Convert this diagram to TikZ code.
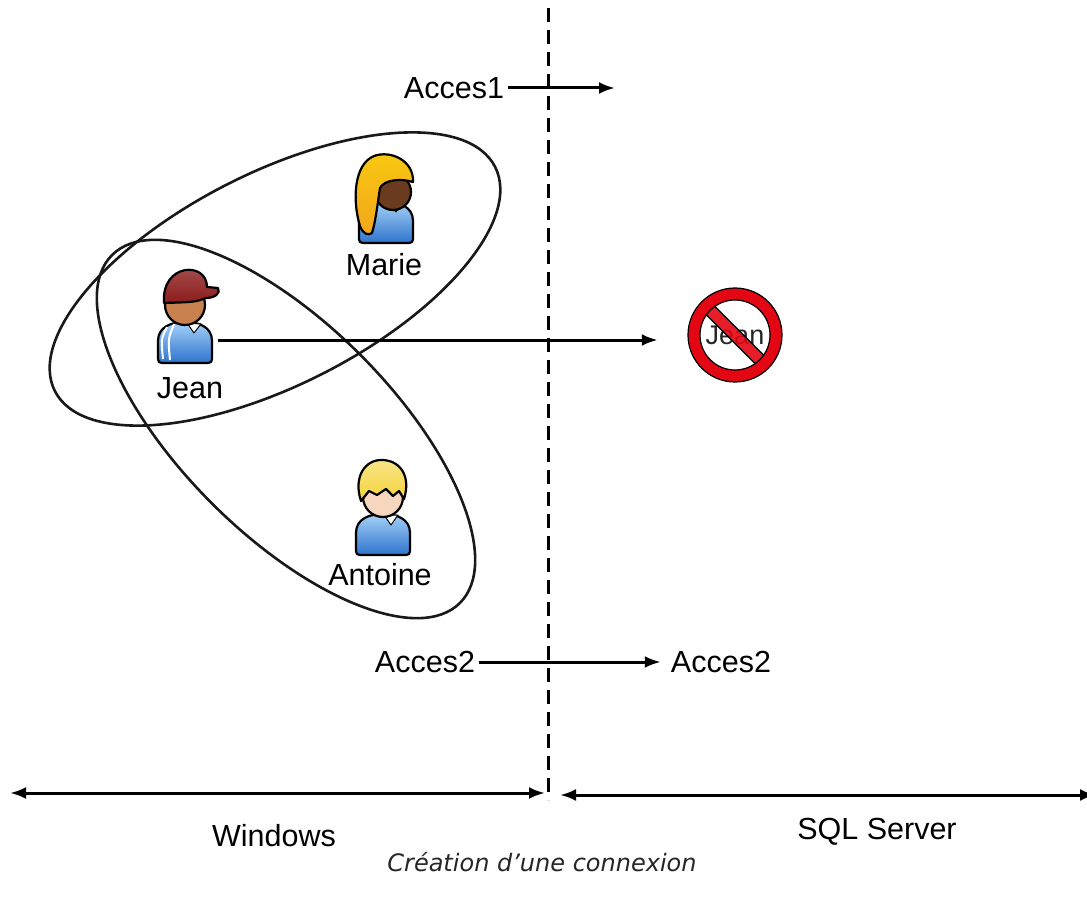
\documentclass[tikz,border=0pt]{standalone}
\usepackage{fontspec}
\setmainfont{Liberation Sans}
\newfontfamily\notefont{DejaVu Sans}
\usetikzlibrary{arrows.meta,positioning}

\definecolor{shirtlight}{HTML}{A4D2F8}
\definecolor{shirtdark}{HTML}{2F73CC}
\definecolor{capred}{HTML}{8C1C1C}
\definecolor{jeanskin}{HTML}{C9804F}
\definecolor{marieskin}{HTML}{6A3B1F}
\definecolor{mariehair}{HTML}{F3A51C}
\definecolor{antoineskin}{HTML}{F7D6BE}
\definecolor{antoinehair}{HTML}{F4D43A}
\definecolor{banred}{HTML}{E30613}

\tikzset{
  lbl/.style={font=\fontsize{30.5}{36}\selectfont, inner sep=0pt},
  link/.style={-{Latex[length=16pt,width=12pt]}, line width=3pt},
  span/.style={{Latex[length=16pt,width=12pt]}-{Latex[length=16pt,width=12pt]}, line width=3pt},
  group/.style={draw=black!90, line width=2.6pt},
  outline/.style={draw=black, line width=2.2pt, line join=round},
  shirt/.style={outline, top color=shirtlight, bottom color=shirtdark},
  collar/.style={fill=white, draw=black, line width=1pt, line join=round},
}

\begin{document}
\begin{tikzpicture}[x=1pt, y=-1pt]
\useasboundingbox (0,0) rectangle (1087,901);

% border between the two worlds
\coordinate (sepTop) at (548,8);
\coordinate (sepBot) at (548,800);
\draw[dash pattern=on 14pt off 8pt, line width=3pt] (sepTop) -- (sepBot);

% groups
\draw[group, rotate around={27:(275,279)}] (275,279) ellipse [x radius=247, y radius=106];
\draw[group, rotate around={-45:(286,429)}] (286,429) ellipse [x radius=246, y radius=105];

% Marie
\begin{scope}[shift={(390,190)}]
  \draw[shirt, shift={(-4,-5)}] (-27,50) .. controls (-27,58) .. (-19,58) -- (19,58) .. controls (27,58) .. (27,50) -- (27,36) .. controls (27,22) and (14,17) .. (0,17) .. controls (-14,17) and (-27,22) .. (-27,36) -- cycle;
  \draw[collar] (-2,13) -- (12,13) -- (6,22) -- cycle;
  \draw[outline, fill=marieskin] (3,2) circle (18);
  \draw[outline, top color=mariehair!60!yellow, bottom color=mariehair] (23,-8) .. controls (24,-30) and (0,-40) .. (-16,-34) .. controls (-36,-26) and (-38,10) .. (-30,36) .. controls (-27,44) and (-22,46) .. (-18,43) .. controls (-14,30) and (-12,10) .. (-10,-2) .. controls (-6,-10) and (10,-12) .. (23,-8) -- cycle;
\end{scope}
\node[lbl] (marie) at (384,265) {Marie};

% Jean
\begin{scope}[shift={(185,305)}]
  \draw[shirt] (-27,50) .. controls (-27,58) .. (-19,58) -- (19,58) .. controls (27,58) .. (27,50) -- (27,36) .. controls (27,22) and (14,17) .. (0,17) .. controls (-14,17) and (-27,22) .. (-27,36) -- cycle;
  \draw[white, line width=2pt] (-18,22) .. controls (-24,34) .. (-22,54);
  \draw[white, line width=2pt] (-11,19) .. controls (-17,34) .. (-15,55);
  \draw[collar] (2,18) -- (16,19) -- (9,28) -- cycle;
  \draw[outline, fill=jeanskin] (0,0) circle (20);
  \draw[outline, top color=capred!75!white, bottom color=capred] (-21,-2) .. controls (-24,-42) and (22,-44) .. (22,-18) -- (33,-17) .. controls (36,-12) and (30,-7) .. (21,-7) .. controls (10,-3) .. (-21,-2) -- cycle;
\end{scope}
\node[inner sep=0, minimum width=56pt, minimum height=40pt] (jean) at (190,340) {};
\node[lbl] (jeanlbl) at (190,388) {Jean};

% Antoine
\begin{scope}[shift={(383,497)}]
  \draw[shirt] (-27,50) .. controls (-27,58) .. (-19,58) -- (19,58) .. controls (27,58) .. (27,50) -- (27,36) .. controls (27,22) and (14,17) .. (0,17) .. controls (-14,17) and (-27,22) .. (-27,36) -- cycle;
  \draw[collar] (1,18) -- (15,18) -- (8,28) -- cycle;
  \draw[outline, fill=antoineskin] (0,0) circle (20);
  \draw[outline, top color=antoinehair!60!white, bottom color=antoinehair] (-22,4) .. controls (-30,-20) and (-18,-38) .. (0,-37) .. controls (18,-36) and (28,-20) .. (21,2) -- (16,-6) -- (10,-1) -- (3,-8) -- (-6,-2) -- (-14,-6) -- cycle;
\end{scope}
\node[lbl] (antoine) at (380,575) {Antoine};

% refused login
\node[circle, inner sep=0, minimum size=94pt] (ban) at (735,335) {};
\node[font=\fontsize{27}{30}\selectfont, text=black!85, inner sep=0] at (ban) {Jean};
\fill[banred, opacity=.9, rotate around={-45:(735,335)}] (698,329) rectangle (772,341);
\draw[line width=1.2pt, rotate around={-45:(735,335)}] (698,329) -- (772,329) (698,341) -- (772,341);
\fill[banred, even odd rule] (ban) circle (47) circle (35);
\draw[line width=1.2pt] (ban) circle (47) (ban) circle (35);

\draw[link] (jean.east) -- (jean.east -| ban.west) [shorten >=30pt];

% logins
\node[lbl] (acc1) at (454,88) {Acces1};
\coordinate (acc1end) at (615,88);
\draw[link, shorten <=4pt] (acc1) -- (acc1end);

\node[lbl] (acc2win) at (425,662) {Acces2};
\node[lbl] (acc2sql) at (721,662) {Acces2};
\draw[link, shorten <=4pt, shorten >=10pt] (acc2win) -- (acc2sql);

% domains
\coordinate (winL) at (10,793);
\coordinate (winR) at (545,793);
\coordinate (sqlL) at (560,795);
\coordinate (sqlR) at (1096,795);
\draw[span] (winL) -- (winR);
\draw[span] (sqlL) -- (sqlR);
\node[lbl] (win) at (274,836) {Windows};
\node[lbl] (sql) at (877,832) {SQL Server};

\node[font=\notefont\itshape\fontsize{24}{28}\selectfont, text=black!85, inner sep=0] (caption) at (542,862) {Création d’une connexion};
\end{tikzpicture}
\end{document}
